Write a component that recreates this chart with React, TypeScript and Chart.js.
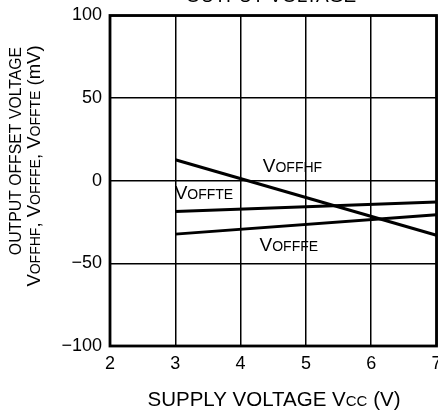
import React, { useEffect, useRef } from "react";
import { Chart, registerables } from "chart.js";

Chart.register(...registerables);

const supplyVoltage = [3, 7];
const vOffHF = [12.7, -33];
const vOffTE = [-18.6, -12.9];
const vOffFE = [-32.3, -20.6];
const xTicks = [2, 3, 4, 5, 6, 7];
const yTicks = [-100, -50, 0, 50, 100];

const seriesLabels = [
  { sub: "OFFHF", x: 4.34, y: 5 },
  { sub: "OFFTE", x: 2.99, y: -10.9 },
  { sub: "OFFFE", x: 4.29, y: -42.8 },
];

const FONT = "'Liberation Sans', Arial, Helvetica, sans-serif";

type Part = { t: string; size: number };

function measure(ctx: CanvasRenderingContext2D, parts: Part[]) {
  let w = 0;
  for (const p of parts) {
    ctx.font = `${p.size}px ${FONT}`;
    w += ctx.measureText(p.t).width;
  }
  return w;
}

function drawParts(ctx: CanvasRenderingContext2D, parts: Part[], x: number, y: number, align: "left" | "center") {
  const w = measure(ctx, parts);
  let cx = align === "center" ? x - w / 2 : x;
  ctx.textAlign = "left";
  ctx.textBaseline = "alphabetic";
  for (const p of parts) {
    ctx.font = `${p.size}px ${FONT}`;
    ctx.fillText(p.t, cx, y);
    cx += ctx.measureText(p.t).width;
  }
}

const annotations = {
  id: "annotations",
  afterDraw(chart: any) {
    const ctx: CanvasRenderingContext2D = chart.ctx;
    const xs = chart.scales.x;
    const ys = chart.scales.y;
    const area = chart.chartArea;
    ctx.save();
    ctx.fillStyle = "#000";
    ctx.strokeStyle = "#000";
    ctx.lineWidth = 2.8;
    ctx.strokeRect(area.left, area.top, area.right - area.left, area.bottom - area.top);
    // cut-off title
    drawParts(ctx, [{ t: "OUTPUT VOLTAGE", size: 19 }], 271, 2, "center");
    // series labels
    for (const l of seriesLabels) {
      drawParts(
        ctx,
        [
          { t: "V", size: 19 },
          { t: l.sub, size: 14 },
        ],
        xs.getPixelForValue(l.x),
        ys.getPixelForValue(l.y),
        "left"
      );
    }
    // x title
    drawParts(
      ctx,
      [
        { t: "SUPPLY VOLTAGE V", size: 20.5 },
        { t: "CC", size: 15 },
        { t: " (V)", size: 20.5 },
      ],
      274,
      406,
      "center"
    );
    // y titles
    ctx.save();
    ctx.translate(21, 151);
    ctx.rotate(-Math.PI / 2);
    drawParts(ctx, [{ t: "OUTPUT OFFSET VOLTAGE", size: 15.8 }], 0, 0, "center");
    ctx.restore();
    ctx.save();
    ctx.translate(40, 166);
    ctx.rotate(-Math.PI / 2);
    drawParts(
      ctx,
      [
        { t: "V", size: 18.5 },
        { t: "OFFHF", size: 14 },
        { t: ", V", size: 18.5 },
        { t: "OFFFE", size: 14 },
        { t: ", V", size: 18.5 },
        { t: "OFFTE", size: 14 },
        { t: " (mV)", size: 18.5 },
      ],
      0,
      0,
      "center"
    );
    ctx.restore();
    ctx.restore();
  },
};

export default function App() {
  const ref = useRef<HTMLCanvasElement>(null);
  useEffect(() => {
    document.body.style.margin = "0";
    const mk = (data: number[]) => ({
      data: supplyVoltage.map((x, i) => ({ x, y: data[i] })),
      borderColor: "#000",
      borderWidth: 3,
      pointRadius: 0,
      fill: false,
    });
    const chart = new Chart(ref.current!, {
      type: "line",
      data: {
        datasets: [mk(vOffHF), mk(vOffTE), mk(vOffFE)],
      },
      options: {
        animation: false,
        responsive: false,
        layout: { padding: { top: 15.5, right: 1.5, left: 0, bottom: 0 } },
        plugins: { legend: { display: false }, tooltip: { enabled: false } },
        scales: {
          x: {
            type: "linear",
            min: 2,
            max: 7,
            afterBuildTicks: (s: any) => {
              s.ticks = xTicks.map((v) => ({ value: v }));
            },
            afterFit: (s: any) => {
              s.height = 64;
              s.paddingLeft = 0;
              s.paddingRight = 0;
            },
            grid: { color: "#000", lineWidth: 1.5, drawTicks: false },
            border: { display: false },
            ticks: {
              color: "#000",
              font: { family: FONT, size: 18 },
              padding: 7,
              maxRotation: 0,
              autoSkip: false,
            },
          },
          y: {
            type: "linear",
            min: -100,
            max: 100,
            afterBuildTicks: (s: any) => {
              s.ticks = yTicks.map((v) => ({ value: v }));
            },
            afterFit: (s: any) => {
              s.width = 110;
              s.paddingTop = 0;
              s.paddingBottom = 0;
            },
            grid: { color: "#000", lineWidth: 1.5, drawTicks: false },
            border: { display: false },
            ticks: {
              color: "#000",
              font: { family: FONT, size: 18 },
              padding: 8,
              callback: (v: any) => (Number(v) < 0 ? "\u2212" + Math.abs(Number(v)) : String(v)),
            },
          },
        },
      },
      plugins: [annotations],
    });
    return () => chart.destroy();
  }, []);
  return <canvas ref={ref} width={438} height={410} style={{ display: "block" }} />;
}
